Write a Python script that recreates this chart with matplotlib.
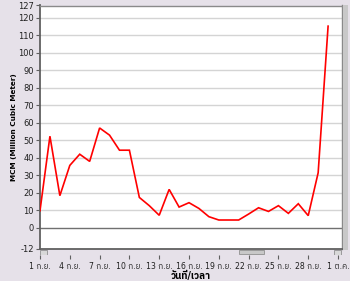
import matplotlib
matplotlib.use("Agg")
import matplotlib.pyplot as plt
from matplotlib import font_manager
from matplotlib.ft2font import FT2Font
from matplotlib.patches import Rectangle

# ---- data ----
days = list(range(30))  # 1 Sep .. 30 Sep (day index)
values = [9.7, 52.3, 18.3, 35.6, 42.0, 37.9, 57.0, 52.9, 44.3, 44.3,
          17.3, 12.6, 7.1, 21.9, 11.8, 14.3, 11.0, 6.3, 4.4, 4.4,
          4.4, 7.8, 11.4, 9.3, 12.6, 8.2, 13.7, 6.9, 31.4, 115.2]
tick_pos = [0, 3, 6, 9, 12, 15, 18, 21, 24, 27, 30]
tick_labels = ["1 ก.ย.", "4 ก.ย.", "7 ก.ย.", "10 ก.ย.", "13 ก.ย.", "16 ก.ย.",
               "19 ก.ย.", "22 ก.ย.", "25 ก.ย.", "28 ก.ย.", "1 ต.ค."]
y_ticks = [-12, 0, 10, 20, 30, 40, 50, 60, 70, 80, 90, 100, 110, 120, 127]
x_title = "วันที่/เวลา"
y_title = "MCM (Million Cubic Meter)"

# ---- find a font that has Thai glyphs ----
thai_family = None
for f in font_manager.fontManager.ttflist:
    try:
        ft = FT2Font(f.fname)
        if ft.get_char_index(ord("ก")) and ft.get_char_index(ord("ว")):
            thai_family = f.name
            if "Sans" in f.name:
                break
    except Exception:
        pass
fams = ["DejaVu Sans"]
if thai_family:
    fams = ["DejaVu Sans", thai_family]
plt.rcParams["font.family"] = fams

bg = "#E6E1E9"
fig = plt.figure(figsize=(3.5, 2.81), dpi=100, facecolor=bg)
W, H = 350.0, 281.0
L, R, T, B = 39.5, 342.0, 5.5, 248.7
ax = fig.add_axes([L / W, 1 - B / H, (R - L) / W, (B - T) / H])
ax.set_facecolor("white")

ax.set_xlim(-0.05, 30.4)
ax.set_ylim(-12, 127)

for yv in y_ticks:
    if yv in (-12, 127):
        continue
    if yv == 0:
        ax.axhline(yv, color="#707070", lw=1.0, zorder=1)
    else:
        ax.axhline(yv, color="#D4D4D4", lw=1.0, zorder=1)

ax.plot(days, values, color="#FF0000", lw=1.2, zorder=3, solid_joinstyle="miter")

ax.set_yticks(y_ticks)
ax.set_yticklabels([str(v) for v in y_ticks], fontsize=6.0, color="#202020")
ax.tick_params(axis="y", length=3, width=0.8, color="#606060", pad=1)
ax.set_xticks(tick_pos)
ax.set_xticklabels(tick_labels, fontsize=5.6, color="#202020")
ax.tick_params(axis="x", length=0, pad=9.5)

for side in ("left", "bottom"):
    ax.spines[side].set_color("#606060")
    ax.spines[side].set_linewidth(1.3)
for side in ("top", "right"):
    ax.spines[side].set_color("#8A8A8A")
    ax.spines[side].set_linewidth(1.0)

ax.set_xlabel(x_title, fontsize=7.0, fontweight="bold", labelpad=0)
ax.set_ylabel(y_title, fontsize=5.2, fontweight="bold")
ax.yaxis.set_label_coords((17 - L) / (R - L), 0.5)

# horizontal scrollbar
sax = fig.add_axes([L / W, 1 - 254.5 / H, (R - L) / W, 5.0 / H])
sax.set_xlim(ax.get_xlim())
sax.set_ylim(0, 1)
sax.set_facecolor(bg)
for s in sax.spines.values():
    s.set_visible(False)
sax.set_yticks([])
sax.set_xticks(tick_pos)
sax.set_xticklabels([])
sax.tick_params(axis="x", length=3, width=0.8, color="#606060", direction="out", pad=0)
sax.add_patch(Rectangle((20.05, 0.05), 2.5, 0.9, facecolor="#C8C8C8",
                        edgecolor="#909090", lw=0.6))
sax.add_patch(Rectangle((0.05, 0.0), 0.7, 1.0, facecolor="#D8D8D8",
                        edgecolor="#808080", lw=0.5))
sax.add_patch(Rectangle((29.6, 0.0), 0.7, 1.0, facecolor="#D8D8D8",
                        edgecolor="#808080", lw=0.5))

# vertical scrollbar strip on the right
vax = fig.add_axes([342.5 / W, 1 - 250 / H, 5.5 / W, (250 - 5) / H])
vax.set_facecolor("#C8C8C8")
vax.set_xticks([])
vax.set_yticks([])
for s in vax.spines.values():
    s.set_visible(False)

fig.savefig("out.png", dpi=100, facecolor=bg)
